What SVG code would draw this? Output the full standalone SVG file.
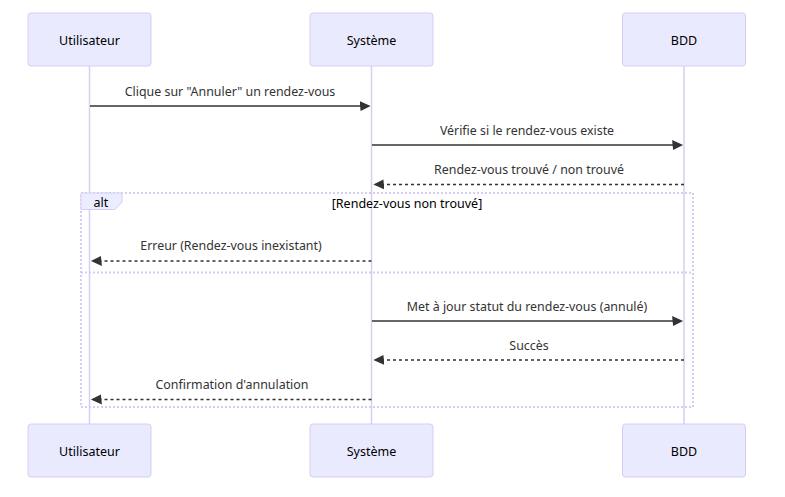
<svg xmlns="http://www.w3.org/2000/svg" width="785" height="497" viewBox="0 0 785 497">
<style>
  .actor{fill:#eaeaff;stroke:#d6cdf4;stroke-width:1}
  .actorText{font-family:"Noto Sans","Open Sans",sans-serif;font-size:12.5px;fill:#000;text-anchor:middle;dominant-baseline:central}
  .life{stroke:#d6cdf4;stroke-width:1.5}
  .msg{stroke:#333;stroke-width:1.5;fill:none}
  .dash{stroke-dasharray:3,3}
  .msgText{font-family:"Noto Sans","Open Sans",sans-serif;font-size:12.4px;fill:#333;text-anchor:middle;dominant-baseline:central}
  .loopLine{stroke:#d6cdf4;stroke-width:2;stroke-dasharray:2,2;fill:none}
  .labelBox{fill:#ececff;stroke:#d6cdf4;stroke-width:1}
  .loopText{font-family:"Noto Sans","Open Sans",sans-serif;font-size:12.5px;fill:#000;text-anchor:middle;dominant-baseline:central}
</style>
<defs>
  <marker id="arrowhead" viewBox="-1 0 12 10" refX="7.9" refY="5" markerUnits="userSpaceOnUse" markerWidth="12" markerHeight="12" orient="auto">
    <path d="M -1 0 L 10 5 L 0 10 z" fill="#333" stroke="none"/>
  </marker>
</defs>
<g id="lifelines">
  <line class="life" x1="89.5" y1="66" x2="89.5" y2="424"/>
  <line class="life" x1="371.5" y1="66" x2="371.5" y2="424"/>
  <line class="life" x1="684" y1="66" x2="684" y2="424"/>
</g>
<g id="alt-block">
  <rect class="loopLine" x="81" y="193" width="612" height="214"/>
  <line class="loopLine" x1="81" y1="272.5" x2="693" y2="272.5"/>
  <polygon class="labelBox" points="81,193 122,193 122,202 115,209.5 81,209.5"/>
  <text class="loopText" x="101" y="202">alt</text>
  <text class="loopText" x="407" y="203">[Rendez-vous non trouvé]</text>
</g>
<g id="actor-Utilisateur-top"><rect class="actor" x="28" y="13" width="123" height="53" rx="3"/><text class="actorText" x="89.5" y="40">Utilisateur</text></g>
<g id="actor-Systeme-top"><rect class="actor" x="310" y="13" width="123" height="53" rx="3"/><text class="actorText" x="371.5" y="40">Système</text></g>
<g id="actor-BDD-top"><rect class="actor" x="622.5" y="13" width="123" height="53" rx="3"/><text class="actorText" x="684" y="40">BDD</text></g>
<g id="actor-Utilisateur-bottom"><rect class="actor" x="28" y="424" width="123" height="53" rx="3"/><text class="actorText" x="89.5" y="451">Utilisateur</text></g>
<g id="actor-Systeme-bottom"><rect class="actor" x="310" y="424" width="123" height="53" rx="3"/><text class="actorText" x="371.5" y="451">Système</text></g>
<g id="actor-BDD-bottom"><rect class="actor" x="622.5" y="424" width="123" height="53" rx="3"/><text class="actorText" x="684" y="451">BDD</text></g>
<g id="connectors">
  <line class="msg" x1="90" y1="106" x2="368.5" y2="106" marker-end="url(#arrowhead)"/>
  <text class="msgText" x="230" y="91">Clique sur "Annuler" un rendez-vous</text>
  <line class="msg" x1="372" y1="145" x2="681" y2="145" marker-end="url(#arrowhead)"/>
  <text class="msgText" x="527" y="130.5">Vérifie si le rendez-vous existe</text>
  <line class="msg dash" x1="684" y1="184.5" x2="375.5" y2="184.5" marker-end="url(#arrowhead)"/>
  <text class="msgText" x="529" y="169.5">Rendez-vous trouvé / non trouvé</text>
  <line class="msg dash" x1="371.5" y1="261" x2="93" y2="261" marker-end="url(#arrowhead)"/>
  <text class="msgText" x="231" y="245">Erreur (Rendez-vous inexistant)</text>
  <line class="msg" x1="372" y1="321" x2="681" y2="321" marker-end="url(#arrowhead)"/>
  <text class="msgText" x="527" y="306">Met à jour statut du rendez-vous (annulé)</text>
  <line class="msg dash" x1="684" y1="360" x2="375.5" y2="360" marker-end="url(#arrowhead)"/>
  <text class="msgText" x="529" y="345.5">Succès</text>
  <line class="msg dash" x1="371.5" y1="399.5" x2="93" y2="399.5" marker-end="url(#arrowhead)"/>
  <text class="msgText" x="232" y="384.5">Confirmation d'annulation</text>
</g>
</svg>
